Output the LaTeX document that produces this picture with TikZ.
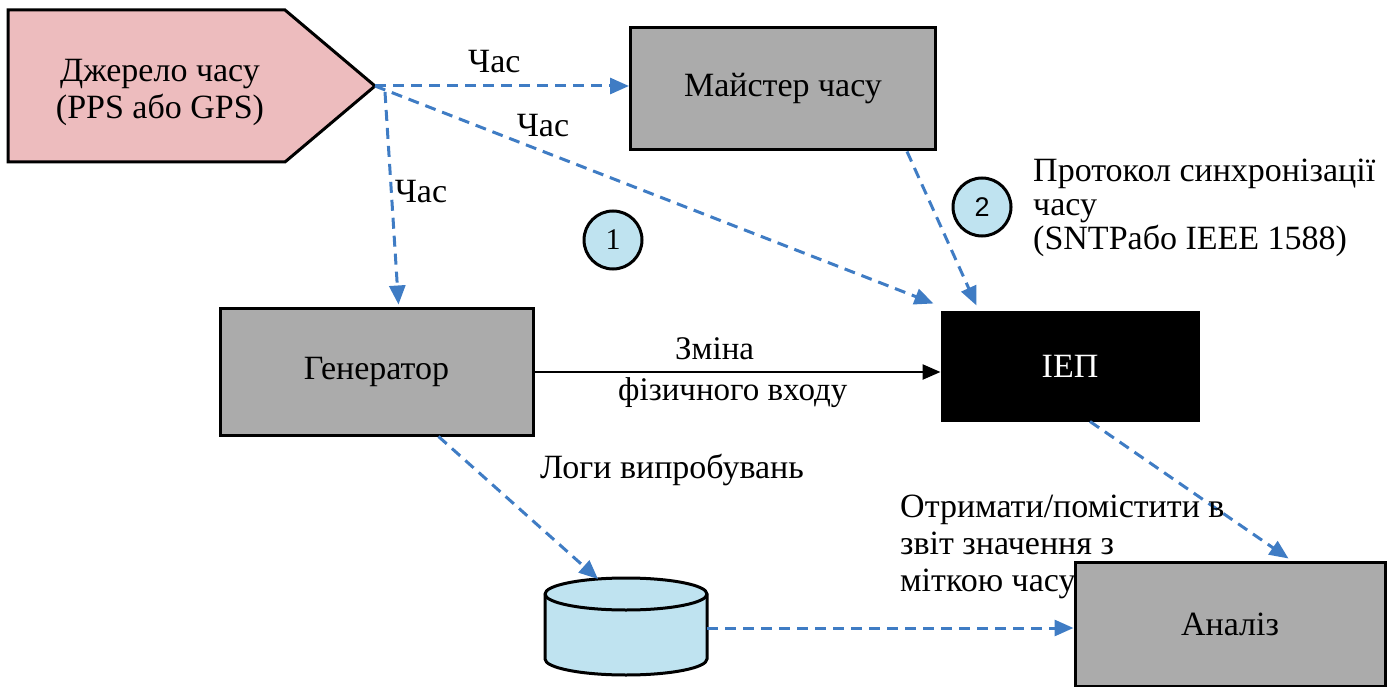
\documentclass[tikz,border=0pt]{standalone}
\usepackage{fontspec}
\setmainfont{Liberation Serif}
\newfontfamily\serf{Liberation Serif}
\newfontfamily\sansf{Liberation Sans}
\usetikzlibrary{arrows.meta,calc}
\definecolor{pinkf}{HTML}{EDBCBE}
\definecolor{boxgrey}{HTML}{ABABAB}
\definecolor{arrblue}{HTML}{3F7CC4}
\definecolor{lblue}{HTML}{BFE3F0}
\newcommand\dtxt{\serf\fontsize{34}{37}\selectfont}
\begin{document}
\begin{tikzpicture}[x=1pt,y=-1pt,
  box/.style={draw=black, line width=3pt, fill=boxgrey, inner sep=0pt, font=\dtxt},
  tarrow/.style={draw=arrblue, line width=3pt, dash pattern=on 11pt off 7pt, -{Triangle[length=19pt,width=16pt,fill=arrblue]}},
  solidarrow/.style={draw=black, line width=2.5pt, -{Triangle[length=18pt,width=15pt]}},
  lbl/.style={font=\dtxt, inner sep=0pt, align=left},
  numc/.style={circle, draw=black, line width=3pt, fill=lblue, minimum size=58pt, inner sep=0pt, font=\serf\fontsize{30}{32}\selectfont}
]
\useasboundingbox (0,0) rectangle (1395,687);
% source pentagon
\draw[line width=3pt, fill=pinkf] (8,10) -- (285,10) -- (375,86) -- (285,162) -- (8,162) -- cycle;
\coordinate (src) at (375,86);
\node[lbl, align=center] (srctext) at (160,92) {Джерело часу\\(PPS або GPS)};
% boxes
\node[box, minimum width=305pt, minimum height=122pt] (master) at (783,89) {Майстер часу};
\node[box, minimum width=313pt, minimum height=127pt] (gen) at (376.5,371.5) {Генератор};
\node[box, fill=black, text=white, minimum width=256pt, minimum height=108pt] (iep) at (1070,366) {ІЕП};
\node[box, minimum width=310pt, minimum height=124pt] (an) at (1230,624) {Аналіз};
% cylinder
\node[inner sep=0pt, minimum width=162pt, minimum height=98pt] (db) at (626,628) {};
\draw[line width=3pt, fill=lblue] (545,594) -- (545,659) arc[start angle=180, end angle=360, x radius=81pt, y radius=16pt] -- (707,594) arc[start angle=0, end angle=180, x radius=81pt, y radius=16pt] -- cycle;
\draw[line width=3pt] (545,594) arc[start angle=180, end angle=360, x radius=81pt, y radius=16pt];
% circles
\node[numc] (c1) at (613,240) {1};
\node[numc, font=\sansf\fontsize{27}{30}\selectfont] (c2) at (982,207) {2};
% dashed arrows
\draw[tarrow] (src) -- (src -| master.west) node[pos=0.47, above=12pt, lbl] (t1) {Час};
\draw[tarrow] (src) -- ($(iep.north west)+(-7,-7)$);
\node[lbl] (t2) at (543,126) {Час};
\draw[tarrow] ($(src)+(10,6)$) -- ($(gen.north west)+(180,-2)$);
\node[lbl] (t3) at (421,192) {Час};
\draw[tarrow] ($(master.south east)+(-30,0)$) -- ($(iep.north west)+(36,-5)$);
\draw[tarrow] ($(iep.south)+(20,0)$) -- ($(an.north west)+(215,-2)$);
\draw[tarrow] ($(gen.south west)+(220,0)$) -- (598,579);
\draw[tarrow] (db.east) -- (db.east -| an.west);
% solid arrow
\draw[solidarrow] (gen.east |- 0,372) -- (iep.west |- 0,372);
\node[lbl, anchor=west, font=\serf\fontsize{33}{41}\selectfont] (chg) at (618,373) {\hspace*{57pt}Зміна\\фізичного входу};
% labels
\node[lbl, anchor=north west, font=\serf\fontsize{34}{34}\selectfont] (proto) at (1033,159) {Протокол синхронізації\\часу\\(SNTPабо IEEE 1588)};
\node[lbl, anchor=west] (logs) at (540,470) {Логи випробувань};
\node[lbl, anchor=north west] (rep) at (900,495) {Отримати/помістити в\\звіт значення з\\міткою часу};
\end{tikzpicture}
\end{document}
